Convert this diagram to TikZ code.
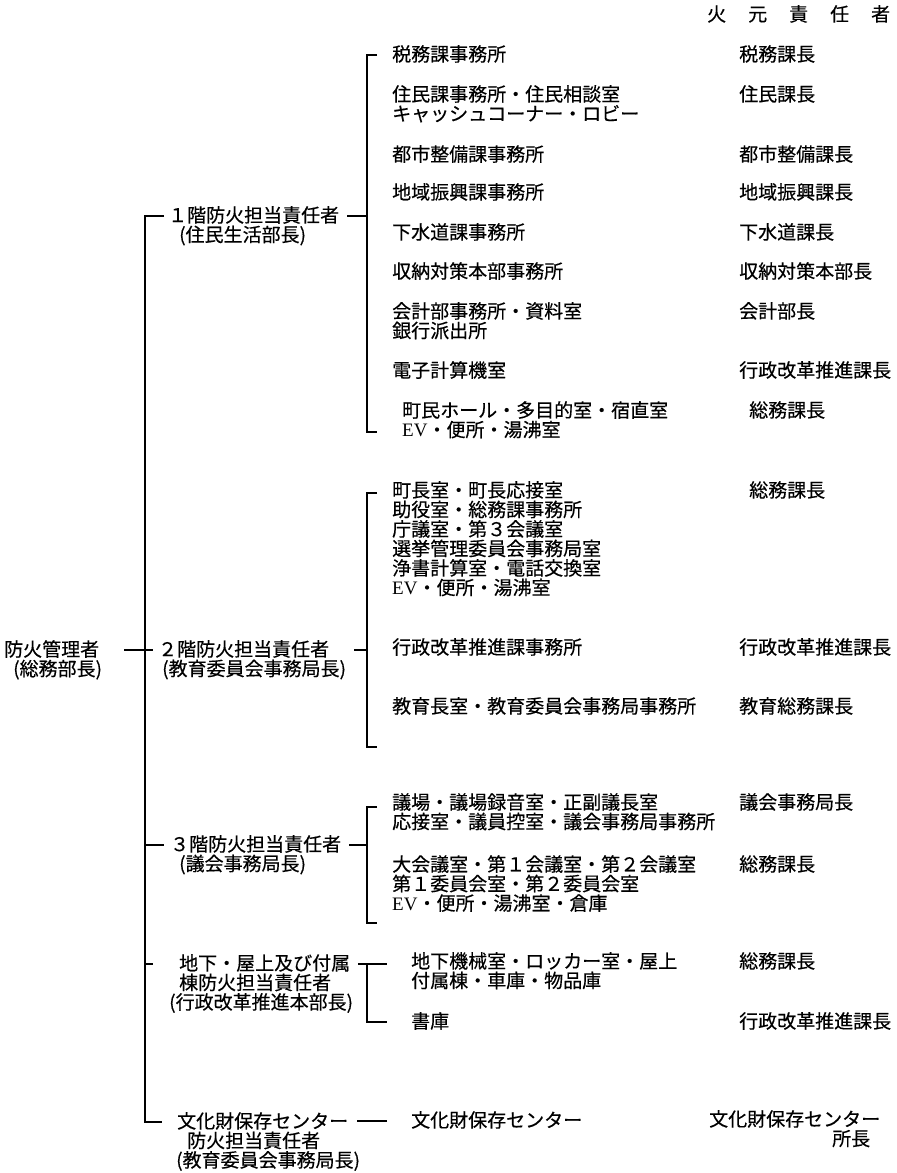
\documentclass[tikz,border=0pt]{standalone}
\usepackage{fontspec}
\newfontfamily\jp[FakeBold=0.4]{Noto Sans CJK JP}
\newfontfamily\lat{Liberation Serif}
\newcommand\ev{{\lat EV}}

\tikzset{
    lbl/.style={anchor=north west, yshift=10pt, inner sep=0pt, align=left, font=\jp\fontsize{19}{19.5}\selectfont},
    lnk/.style={line width=1.6pt},
}

\begin{document}
\begin{tikzpicture}[x=1pt, y=-1pt]

        \useasboundingbox (0,0) rectangle (897,1173);

        \node [lbl] (kopf) at (707,15) {火\hspace{22pt}元\hspace{22pt}責\hspace{22pt}任\hspace{22pt}者};

        % Verantwortliche
        \node [lbl] (root) at (4,650) {防火管理者\\\hspace*{9pt}(総務部長)};
        \node [lbl] (f1) at (168,216) {１階防火担当責任者\\\hspace*{11pt}(住民生活部長)};
        \node [lbl] (f2) at (158,650) {２階防火担当責任者\\\hspace*{4pt}(教育委員会事務局長)};
        \node [lbl] (f3) at (170,845) {３階防火担当責任者\\\hspace*{9pt}(議会事務局長)};
        \node [lbl] (f4) at (169,964) {\hspace*{10pt}地下・屋上及び付属\\\hspace*{10pt}棟防火担当責任者\\(行政改革推進本部長)};
        \node [lbl] (f5) at (176,1122) {\hspace*{1pt}文化財保存センター\\\hspace*{11pt}防火担当責任者\\(教育委員会事務局長)};

        \foreach \f in {root, f1, f2, f3, f4, f5}
            \coordinate (\f l) at ([yshift=-10pt]\f.north west);

        % 1. Stock
        \foreach \nr/\dx/\y/\raum/\chef in {1/0/55/税務課事務所/税務課長, 2/0/95/{住民課事務所・住民相談室\\キャッシュコーナー・ロビー}/住民課長, 3/0/155/都市整備課事務所/都市整備課長, 4/0/193/地域振興課事務所/地域振興課長, 5/0/233/下水道課事務所/下水道課長, 6/0/272/収納対策本部事務所/収納対策本部長, 7/0/312/{会計部事務所・資料室\\銀行派出所}/会計部長, 8/0/371/電子計算機室/行政改革推進課長, 9/10/411/{町民ホール・多目的室・宿直室\\\ev・便所・湯沸室}/総務課長}
        {
            \node [lbl] (raum1-\nr) at (392+\dx,\y) {\raum};
            \node [lbl] (chef1-\nr) at (739+\dx,\y) {\chef};
        }
        % 2. Stock
        \foreach \nr/\dx/\y/\raum/\chef in {1/10/491/{町長室・町長応接室\\助役室・総務課事務所\\庁議室・第３会議室\\選挙管理委員会事務局室\\浄書計算室・電話交換室\\\ev・便所・湯沸室}/総務課長, 2/0/648/行政改革推進課事務所/行政改革推進課長, 3/0/707/教育長室・教育委員会事務局事務所/教育総務課長}
        {
            \node [lbl] (raum2-\nr) at (392,\y) {\raum};
            \node [lbl] (chef2-\nr) at (739+\dx,\y) {\chef};
        }
        % 3. Stock
        \node [lbl] (raum3-1) at (392,803) {議場・議場録音室・正副議長室\\応接室・議員控室・議会事務局事務所};
        \node [lbl] (chef3-1) at (739,803) {議会事務局長};
        \node [lbl] (raum3-2) at (392,865) {大会議室・第１会議室・第２会議室\\第１委員会室・第２委員会室\\\ev・便所・湯沸室・倉庫};
        \node [lbl] (chef3-2) at (739,865) {総務課長};
        % Untergeschoss, Dach
        \node [lbl] (raum4-1) at (411,962) {地下機械室・ロッカー室・屋上\\付属棟・車庫・物品庫};
        \node [lbl] (chef4-1) at (739,962) {総務課長};
        \node [lbl] (raum4-2) at (411,1022) {書庫};
        \node [lbl] (chef4-2) at (739,1022) {行政改革推進課長};
        % Kulturgut
        \node [lbl] (raum5-1) at (411,1121) {文化財保存センター};
        \node [lbl, align=right] (chef5-1) at (709,1120) {文化財保存センター\\所長\kern10pt};

        \coordinate (stamm) at (145,216);
        \coordinate (stammende) at (145,1122);
        \coordinate (k1o) at (367,55);
        \coordinate (k1u) at (367,432);
        \coordinate (k2o) at (367,493);
        \coordinate (k2u) at (367,747);
        \coordinate (k3o) at (367,807);
        \coordinate (k3u) at (367,923);
        \coordinate (k4u) at (367,1022);

        % Stamm
        \draw [lnk] ([xshift=-4pt]f1l) -- (stamm) -- (stammende) -- ([xshift=-14pt]f5l);
        \draw [lnk] (stamm |- f3l) -- ([xshift=-6pt]f3l);
        \draw [lnk] (stamm |- f4l) -- ([xshift=-16pt]f4l);
        \draw [lnk] (root.east |- f2l) ++(22,0) -- ([xshift=-5pt]f2l);

        % Klammern
        \foreach \o/\u in {k1o/k1u, k2o/k2u, k3o/k3u}
            \draw [lnk] ([xshift=10pt]\o) -- (\o) -- (\u) -- ([xshift=10pt]\u);
        \draw [lnk] (f1.east |- f1l) ++(8,0) -- (k1o |- f1l);
        \draw [lnk] (f2.east |- f2l) ++(8,0) -- (k2o |- f2l);
        \draw [lnk] (f3.east |- f3l) ++(8,0) -- (k3o |- f3l);
        \draw [lnk] (f4.east |- f4l) ++(5,0) -- ([xshift=20pt]k4u |- f4l);
        \draw [lnk] (k4u |- f4l) -- (k4u) -- ([xshift=20pt]k4u);
        \draw [lnk] ([shift={(-24pt,-10pt)}]raum5-1.north west) -- ++(-30,0);

\end{tikzpicture}
\end{document}
